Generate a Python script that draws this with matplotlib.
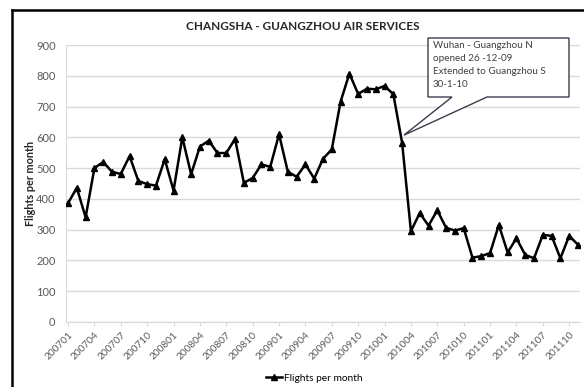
import matplotlib
matplotlib.use("Agg")
import matplotlib.pyplot as plt
from matplotlib.patches import Polygon
from matplotlib.lines import Line2D

# Monthly categories 200701 .. 201111
months = [f"{y}{m:02d}" for y in range(2007, 2012) for m in range(1, 13)][:59]

flights = [
    386, 436, 340, 500, 520, 488, 481, 539, 458, 448, 443, 529,   # 2007
    427, 600, 480, 570, 589, 549, 549, 595, 452, 468, 512, 504,   # 2008
    610, 488, 472, 512, 466, 530, 561, 716, 807, 741, 758, 756,   # 2009
    767, 740, 582, 295, 354, 313, 363, 306, 297, 305, 209, 214,   # 2010
    224, 315, 226, 272, 218, 207, 283, 280, 207, 280, 251,        # 2011
]

y_ticks = [0, 100, 200, 300, 400, 500, 600, 700, 800, 900]
title = "CHANGSHA - GUANGZHOU AIR SERVICES"
series_name = "Flights per month"
note_lines = ["Wuhan - Guangzhou N", "opened 26 -12-09",
              "Extended to Guangzhou S", "30-1-10"]
note_month = "201003"

plt.rcParams["font.family"] = ["Lato", "DejaVu Sans"]

W, H = 584, 387
fig = plt.figure(figsize=(W / 100, H / 100), dpi=100)


def fx(px):
    return px / W


def fy(py):
    return 1 - py / H


ax = fig.add_axes([fx(66), fy(322), fx(580) - fx(66), fy(45) - fy(322)])
xs = list(range(len(flights)))
ax.plot(xs, flights, color="black", lw=1.8, marker="^", ms=4.8,
        label=series_name, zorder=3)
ax.set_ylim(0, 900)
ax.set_xlim(-0.23, len(flights) - 1 + 0.23)
ax.set_yticks(y_ticks)
ax.grid(axis="y", color="#d9d9d9", lw=1)
ax.set_axisbelow(True)
for s in ["top", "right"]:
    ax.spines[s].set_visible(False)
ax.spines["left"].set_color("#d9d9d9")
ax.spines["bottom"].set_color("#d9d9d9")
ax.tick_params(axis="y", length=0, labelsize=8, colors="#595959", pad=7.5)
ax.set_xticks(xs[::3])
ax.set_xticklabels(months[::3], rotation=45, ha="right",
                   rotation_mode="anchor")
ax.tick_params(axis="x", length=3, color="#d9d9d9", labelsize=7.3,
               labelcolor="#595959", pad=3)

fig.text(fx(303), fy(26), title, ha="center", va="center",
         weight="bold", size=8.5, color="#262626")
fig.text(fx(31), fy(183), "Flights per month", rotation=90, ha="center",
         va="center", weight="bold", size=7.8, color="#262626")

# legend below the axis
handle = Line2D([], [], color="black", lw=1.8, marker="^", ms=4.8)
fig.legend([handle], [series_name], loc="center",
           bbox_to_anchor=(fx(314), fy(378)), frameon=False, fontsize=7.3,
           handlelength=1.6, handletextpad=0.2, markerscale=0.9)

# callout box pointing at the drop after the new rail line opened
inv = fig.transFigure.inverted()
idx = months.index(note_month)
tip_disp = ax.transData.transform((idx + 0.2, flights[idx] + 25))
tip = inv.transform(tip_disp)
box = [(428, 38), (569, 38), (569, 97), (487, 97)]
box_end = [(452, 97), (428, 97)]
pts = [(fx(a), fy(b)) for a, b in box] + [tuple(tip)] + \
      [(fx(a), fy(b)) for a, b in box_end]
fig.add_artist(Polygon(pts, closed=True, facecolor="white",
                       edgecolor="#3b3b4f", lw=1.0,
                       transform=fig.transFigure, zorder=5))
fig.text(fx(433), fy(41), "\n".join(note_lines), ha="left", va="top",
         size=7.1, color="#404040", linespacing=1.55, zorder=6)

# outer chart frame
fig.add_artist(Line2D([fx(12), fx(12)], [0, fy(10)], color="black", lw=1.8,
                      transform=fig.transFigure))
fig.add_artist(Line2D([fx(12), 1], [fy(10), fy(10)], color="black", lw=1.8,
                      transform=fig.transFigure))

fig.savefig("out.png", dpi=100)
